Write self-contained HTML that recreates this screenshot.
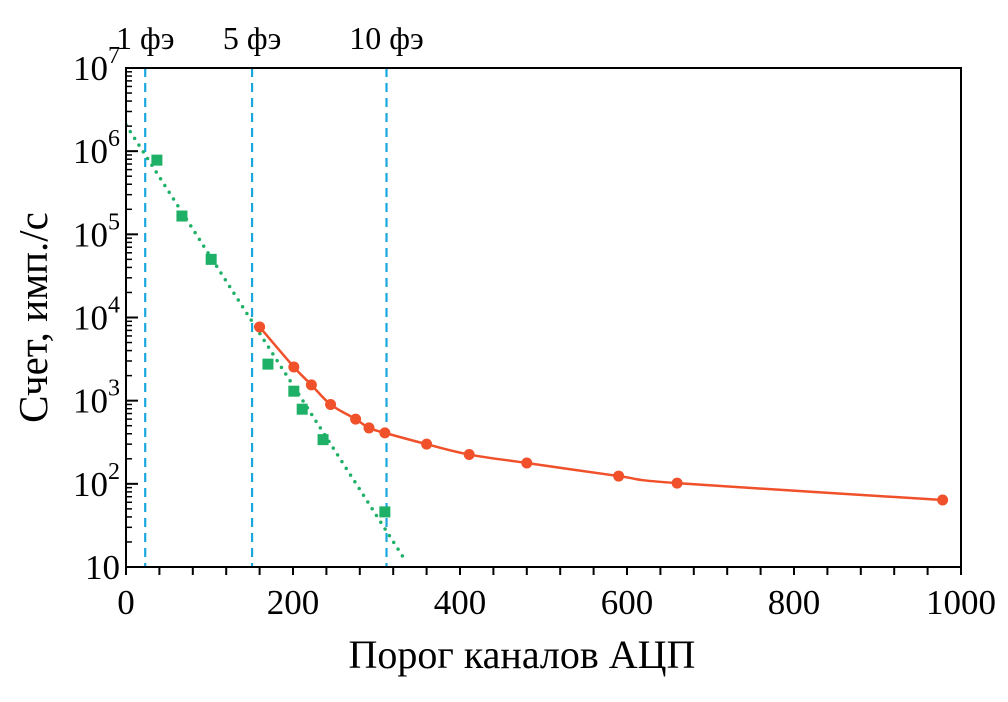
<!DOCTYPE html>
<html><head><meta charset="utf-8"><style>
body{margin:0;background:#fff}
text{font-family:"Liberation Serif",serif;fill:#000}
</style></head><body>
<svg id="c" width="1008" height="697"></svg>
<script>
const greenX=[37,67,102,170,201,211,236,310];
const greenY=[780000,166000,50000,2750,1300,790,340,46];
const fitX=[0,334];
const fitY=[2070000,12.2];
const redX=[160,201,222,245,275,291,310,360,411,480,590,660,978];
const redY=[7700,2540,1550,900,600,470,410,300,225,178,124,102,64];
const vlinesX=[23,151,312];
const vlineLabels=["1 фэ","5 фэ","10 фэ"];
const xTicks=[0,200,400,600,800,1000];
const yExp=[1,2,3,4,5,6,7];

const L=126,R=961,T=68,B=567;
const sx=v=>L+(v/1000)*(R-L);
const sy=v=>B-(Math.log10(v)-1)/6*(B-T);
const svg=document.getElementById('c');
const NS='http://www.w3.org/2000/svg';
function el(tag,attrs,parent){const e=document.createElementNS(NS,tag);for(const k in attrs)e.setAttribute(k,attrs[k]);(parent||svg).appendChild(e);return e;}

const clip=el('clipPath',{id:'pc'});el('rect',{x:L,y:T,width:R-L,height:B-T},clip);

vlinesX.forEach((v,i)=>{
 const l=el('line',{x1:sx(v),x2:sx(v),y1:T,y2:B,stroke:'#1aa7e0','stroke-width':2.2,'stroke-dasharray':'9,6'});
 
 
 const t=el('text',{x:sx(v),y:49,'font-size':32,'text-anchor':'middle'});t.textContent=vlineLabels[i];
 
 
});

const fit=el('line',{x1:sx(fitX[0]),y1:sy(fitY[0]),x2:sx(fitX[1]),y2:sy(fitY[1]),stroke:'#1db066','stroke-width':3.5,'stroke-dasharray':'0,8','stroke-linecap':'round','clip-path':'url(#pc)'});



const pts=redX.map((x,i)=>[sx(x),sy(redY[i])]);
let d='M'+pts[0][0]+','+pts[0][1];
for(let i=0;i<pts.length-1;i++){
 const p0=pts[Math.max(0,i-1)],p1=pts[i],p2=pts[i+1],p3=pts[Math.min(pts.length-1,i+2)];
 const c1=[p1[0]+(p2[0]-p0[0])/6,p1[1]+(p2[1]-p0[1])/6],c2=[p2[0]-(p3[0]-p1[0])/6,p2[1]-(p3[1]-p1[1])/6];
 d+=` C${c1[0]},${c1[1]} ${c2[0]},${c2[1]} ${p2[0]},${p2[1]}`;
}
const rc=el('path',{d:d,fill:'none',stroke:'#f0502a','stroke-width':2.5});


pts.forEach((p,i)=>{const c=el('circle',{cx:p[0],cy:p[1],r:5.5,fill:'#f0502a'});
 
 });
greenX.forEach((x,i)=>{const r=el('rect',{x:sx(x)-5.5,y:sy(greenY[i])-5.5,width:11,height:11,fill:'#1db066'});
 
 });

const fr=el('rect',{x:L,y:T,width:R-L,height:B-T,fill:'none',stroke:'#000','stroke-width':2});


for(let v=0;v<=1000;v+=40){el('line',{x1:sx(v),x2:sx(v),y1:B,y2:B+8,stroke:'#000','stroke-width':2});}
xTicks.forEach(v=>{const t=el('text',{x:sx(v),y:614,'font-size':35,'text-anchor':'middle'});t.textContent=v;
 
 });
yExp.forEach((e,i)=>{
 const y=sy(Math.pow(10,e));
 el('line',{x1:L,x2:L+12,y1:y,y2:y,stroke:'#000','stroke-width':2});
 if(e<7)for(let m=2;m<10;m++){const ym=sy(m*Math.pow(10,e));el('line',{x1:L,x2:L+6,y1:ym,y2:ym,stroke:'#000','stroke-width':1.5});}
 const t=el('text',{x:L-6,y:y+12,'font-size':35,'text-anchor':'end'});
 
 
 if(e===1)t.textContent='10';else{t.textContent='10';const s=el('tspan',{dy:-17,'font-size':24},t);s.textContent=e;}
});
const xt=el('text',{x:522,y:668,'font-size':40,'text-anchor':'middle'});xt.textContent='Порог каналов АЦП';


const yt=el('text',{x:0,y:0,'font-size':41,'text-anchor':'middle',transform:`translate(47,${(T+B)/2}) rotate(-90)`});yt.textContent='Счет, имп./с';


</script>
</body></html>
